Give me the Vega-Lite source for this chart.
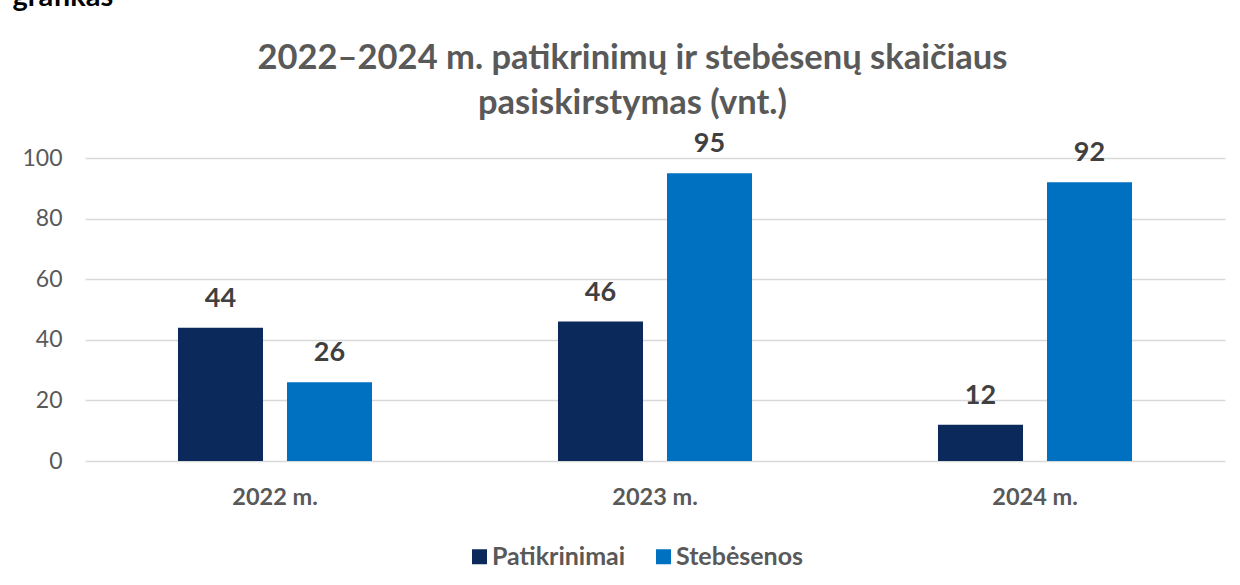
{
  "$schema": "https://vega.github.io/schema/vega-lite/v6.json",
  "autosize": {"type": "none"},
  "width": 1140,
  "height": 303,
  "padding": {"left": 85, "top": 158, "right": 15, "bottom": 124},
  "background": "white",
  "config": {
    "font": "Lato",
    "view": {"stroke": null}
  },
  "data": {
    "values": [
      {"metai": "2022 m.", "tipas": "Patikrinimai", "kiekis": 44},
      {"metai": "2022 m.", "tipas": "Stebėsenos", "kiekis": 26},
      {"metai": "2023 m.", "tipas": "Patikrinimai", "kiekis": 46},
      {"metai": "2023 m.", "tipas": "Stebėsenos", "kiekis": 95},
      {"metai": "2024 m.", "tipas": "Patikrinimai", "kiekis": 12},
      {"metai": "2024 m.", "tipas": "Stebėsenos", "kiekis": 92}
    ]
  },
  "encoding": {
    "xOffset": {
      "field": "tipas",
      "type": "nominal",
      "sort": ["Patikrinimai", "Stebėsenos"],
      "scale": {"paddingInner": 0.22, "paddingOuter": 0.853}
    },
    "y": {
      "field": "kiekis",
      "type": "quantitative",
      "scale": {"domain": [0, 100], "nice": false},
      "axis": {
        "title": "grafikas",
        "titleAngle": 0,
        "titleAlign": "left",
        "titleBaseline": "alphabetic",
        "titleX": -73,
        "titleY": -153,
        "titleFont": "Lato",
        "titleFontSize": 29,
        "titleFontWeight": "bold",
        "titleColor": "#000000",
        "values": [0, 20, 40, 60, 80, 100],
        "domain": false,
        "ticks": false,
        "grid": true,
        "gridColor": "#d9d9d9",
        "gridWidth": 1.5,
        "labelFont": "Lato",
        "labelFontSize": 23,
        "labelColor": "#595959",
        "labelPadding": 23
      }
    }
  },
  "resolve": {"axis": {"x": "independent"}},
  "layer": [
    {
      "mark": {"type": "bar"},
      "encoding": {
        "x": {
          "field": "metai",
          "type": "nominal",
          "sort": ["2022 m.", "2023 m.", "2024 m."],
          "scale": {"paddingInner": 0, "paddingOuter": 0},
          "axis": {
            "title": null,
            "orient": "bottom",
            "domain": false,
            "ticks": false,
            "labelAngle": 0,
            "labelFont": "Lato",
            "labelFontSize": 23.5,
            "labelFontWeight": "bold",
            "labelColor": "#595959",
            "labelPadding": 24,
            "labelBaseline": "top"
          }
        },
        "color": {
          "field": "tipas",
          "type": "nominal",
          "sort": ["Patikrinimai", "Stebėsenos"],
          "scale": {"domain": ["Patikrinimai", "Stebėsenos"], "range": ["#0B2A5B", "#0070C0"]},
          "legend": {
            "title": null,
            "orient": "none",
            "direction": "horizontal",
            "legendX": 382,
            "legendY": 386,
            "symbolType": "square",
            "symbolSize": 225,
            "symbolStrokeWidth": 0,
            "labelFont": "Lato",
            "labelFontSize": 25,
            "labelFontWeight": "bold",
            "labelColor": "#595959",
            "labelOffset": 0,
            "columnPadding": 25
          }
        }
      }
    },
    {
      "mark": {
        "type": "text",
        "baseline": "alphabetic",
        "dy": -21,
        "font": "Lato",
        "fontSize": 27,
        "fontWeight": "bold",
        "color": "#404040"
      },
      "encoding": {
        "x": {
          "field": "metai",
          "type": "nominal",
          "sort": ["2022 m.", "2023 m.", "2024 m."],
          "axis": {
            "orient": "top",
            "title": ["2022–2024 m. patikrinimų ir stebėsenų skaičiaus", "pasiskirstymas (vnt.)"],
            "titleFont": "Lato",
            "titleFontSize": 34.5,
            "titleFontWeight": "bold",
            "titleColor": "#595959",
            "titleLineHeight": 45,
            "titleAlign": "center",
            "titleBaseline": "alphabetic",
            "titleX": 547,
            "titleY": -90,
            "labels": false,
            "domain": false,
            "ticks": false,
            "grid": false
          }
        },
        "text": {"field": "kiekis", "type": "quantitative"}
      }
    }
  ]
}
